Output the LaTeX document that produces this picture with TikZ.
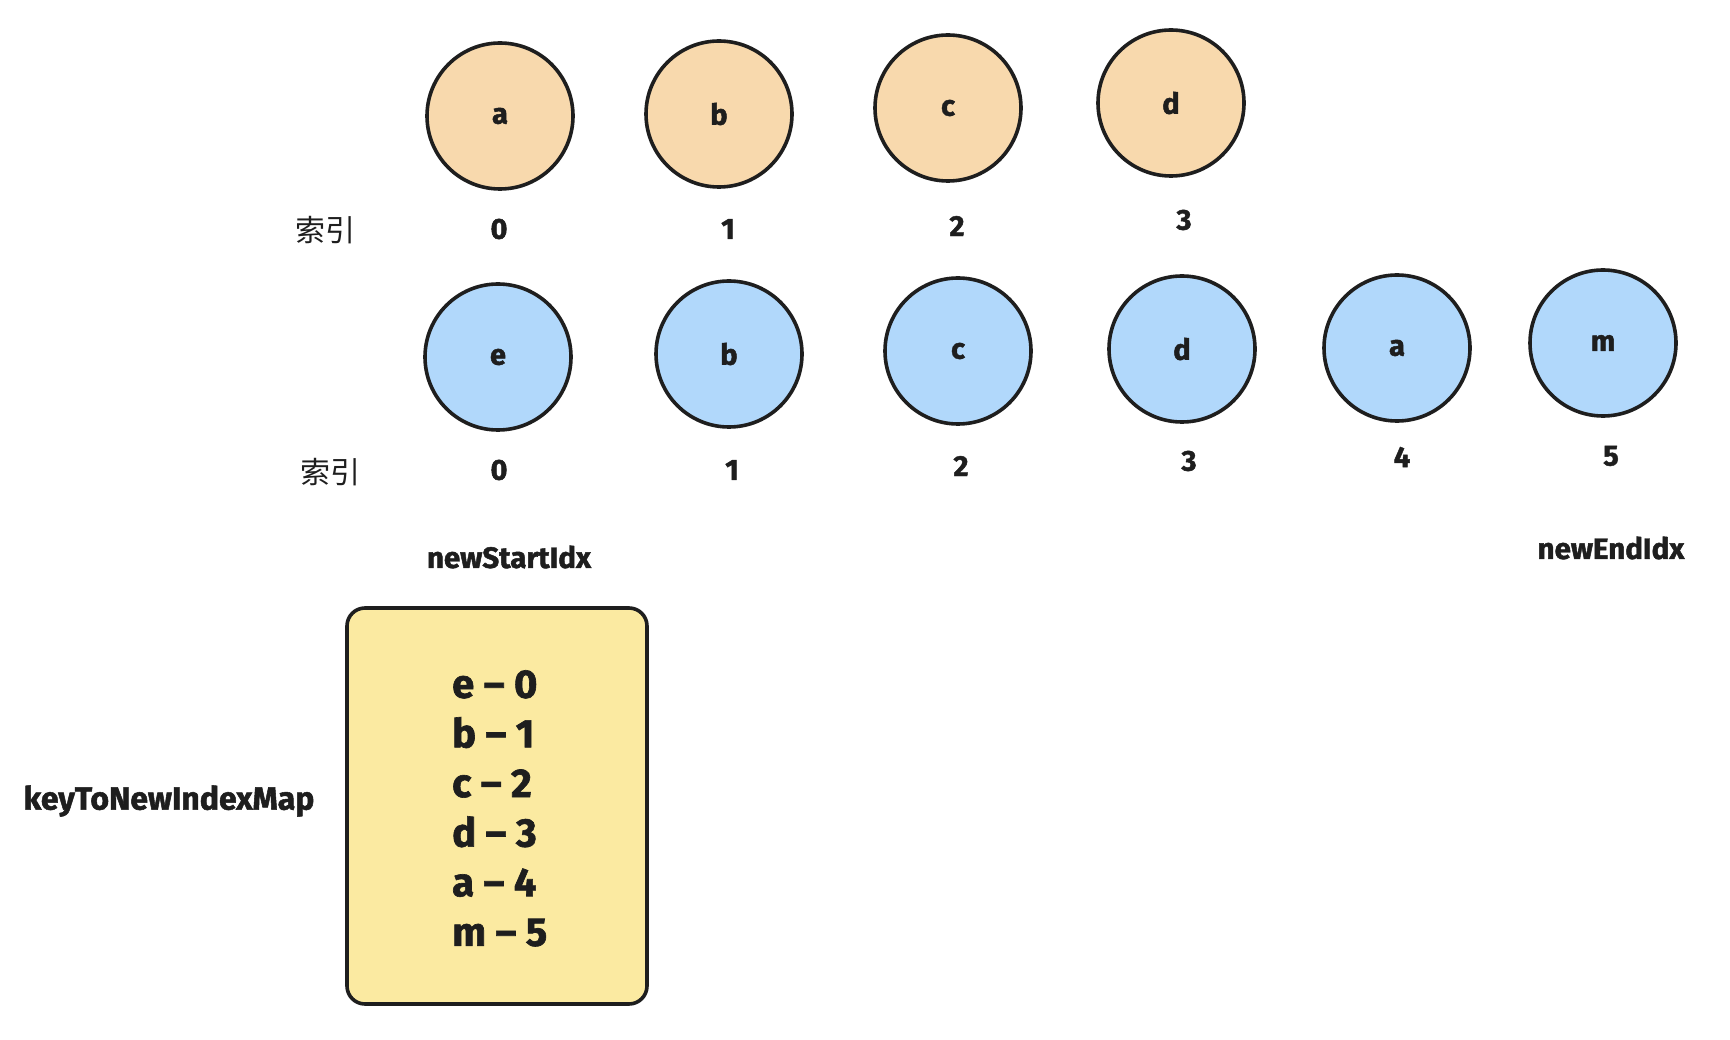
\documentclass[tikz,border=0pt]{standalone}
\usepackage{fontspec}
\setmainfont{Fira Sans}[BoldFeatures={FakeBold=1.6}]
\newfontfamily\cjk{Noto Sans CJK SC}
\definecolor{ink}{HTML}{1E1E1E}
\definecolor{oldfill}{HTML}{F8D9AD}
\definecolor{newfill}{HTML}{B1D8FB}
\definecolor{mapfill}{HTML}{FBEAA1}
\begin{document}
\begin{tikzpicture}[x=1pt,y=-1pt,
  oldnode/.style={circle,draw=ink,line width=3.6pt,fill=oldfill,minimum size=146pt,inner sep=0pt,font=\fontsize{29}{31}\selectfont\bfseries,text=ink},
  newnode/.style={circle,draw=ink,line width=3.6pt,fill=newfill,minimum size=146pt,inner sep=0pt,font=\fontsize{29}{31}\selectfont\bfseries,text=ink},
  idx/.style={font=\fontsize{29}{31}\selectfont\bfseries,text=ink,inner sep=0pt},
  cn/.style={font=\cjk\fontsize{30}{32}\selectfont,text=ink,inner sep=0pt},
  lbl/.style={font=\fontsize{29.5}{31}\selectfont\bfseries,text=ink,inner sep=0pt},
  mapbox/.style={draw=ink,line width=3.6pt,fill=mapfill,rounded corners=18pt}
]
\useasboundingbox (0,0) rectangle (1730,1040);
% old children
\node[oldnode] (oa) at (500,116) {a};
\node[oldnode] (ob) at (719,114) {b};
\node[oldnode] (oc) at (948,108) {c};
\node[oldnode] (od) at (1171,103) {d};
\node[cn] (ocn) at (325,230) {索引};
\node[idx] (oi0) at (499,229) {0};
\node[idx] (oi1) at (728,229) {1};
\node[idx] (oi2) at (957,226) {2};
\node[idx] (oi3) at (1184,220) {3};
% new children
\node[newnode] (ne) at (498,357) {e};
\node[newnode] (nb) at (729,354) {b};
\node[newnode] (nc) at (958,351) {c};
\node[newnode] (nd) at (1182,349) {d};
\node[newnode] (na) at (1397,348) {a};
\node[newnode] (nm) at (1603,343) {m};
\node[cn] (ncn) at (330,472) {索引};
\node[idx] (ni0) at (499,470) {0};
\node[idx] (ni1) at (732,470) {1};
\node[idx] (ni2) at (961,466) {2};
\node[idx] (ni3) at (1189,461) {3};
\node[idx] (ni4) at (1402,457) {4};
\node[idx] (ni5) at (1611,456) {5};
\node[lbl] (start) at (509,557) {newStartIdx};
\node[lbl] (end) at (1611,548) {newEndIdx};
% map
\draw[mapbox] (347,608) rectangle (647,1004);
\node[lbl,font=\fontsize{32}{34}\selectfont\bfseries] (mapname) at (169,801) {keyToNewIndexMap};
\node[anchor=north west,align=left,inner sep=0pt,text=ink,font=\fontsize{40}{49.6}\selectfont\bfseries] (maptext) at (452,670) {e – 0\\b – 1\\c – 2\\d – 3\\a – 4\\m – 5};
\end{tikzpicture}
\end{document}
